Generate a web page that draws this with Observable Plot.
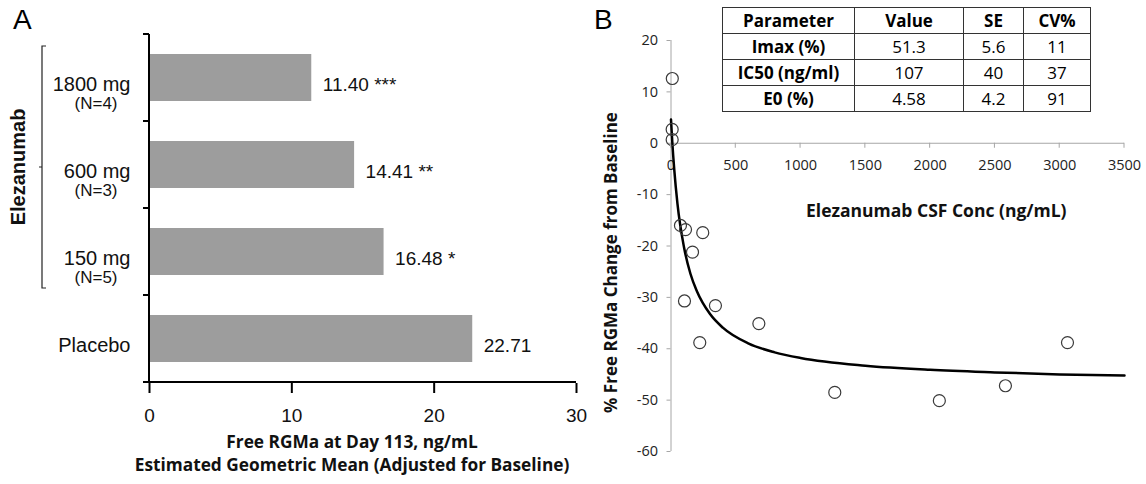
<!DOCTYPE html>
<html><head><meta charset="utf-8">
<script src="https://cdn.jsdelivr.net/npm/d3@7"></script>
<script src="https://cdn.jsdelivr.net/npm/@observablehq/plot@0.6"></script>
<style>
body{margin:0;background:#fff;}
#wrap{position:relative;width:1146px;height:484px;overflow:hidden;background:#fff;}
#panelA,#panelB{position:absolute;top:0;}
#panelA{left:0px}
#panelB{left:580px}
.plabel{position:absolute;font-family:"Liberation Sans",Arial,sans-serif;font-size:28px;line-height:28px;color:#000}
#params{position:absolute;left:722px;top:7px;border-collapse:collapse;font-family:"Open Sans",sans-serif;font-size:17px;color:#000;table-layout:fixed}
#params td{border:1px solid #333;text-align:center;padding:0;height:25px;line-height:25px}
#params td.b{font-weight:bold}
</style>
</head><body>
<div id="wrap">
  <div id="panelA"></div>
  <div id="panelB"></div>
  <div class="plabel" style="left:13px;top:6px">A</div>
  <div class="plabel" style="left:594px;top:6px">B</div>
  <table id="params"></table>
</div>
<script>
// ---------- Panel A data ----------
const groups = ["1800 mg", "600 mg", "150 mg", "Placebo"];
const groupN = ["(N=4)", "(N=3)", "(N=5)", ""];
const freeRGMa = [11.40, 14.41, 16.48, 22.71];
const signif = ["***", "**", "*", ""];
const xTicksA = [0, 10, 20, 30];
const bracketLabel = "Elezanumab";
const xTitleA1 = "Free RGMa at Day 113, ng/mL";
const xTitleA2 = "Estimated Geometric Mean (Adjusted for Baseline)";

// ---------- Panel B data ----------
const csfConc   = [10, 9, 9, 73, 112, 245, 166, 104, 343, 222, 678, 1264, 2071, 2581, 3060];
const pctChange = [12.6, 2.7, 0.7, -16.0, -16.8, -17.4, -21.2, -30.7, -31.6, -38.8, -35.1, -48.5, -50.1, -47.2, -38.8];
const fitConc = [0, 10, 25, 50, 100, 150, 200, 300, 400, 600, 800, 1000, 1500, 2000, 2500, 3000, 3500];
const fitPct  = [4.6, 0.2, -5.1, -11.8, -20.2, -25.4, -28.8, -33.2, -35.9, -39.0, -40.7, -41.8, -43.3, -44.1, -44.6, -45.0, -45.2];
const xTicksB = [0, 500, 1000, 1500, 2000, 2500, 3000, 3500];
const yTicksB = [-60, -50, -40, -30, -20, -10, 0, 10, 20];
const xTitleB = "Elezanumab CSF Conc (ng/mL)";
const yTitleB = "% Free RGMa Change from Baseline";

// ---------- Table data ----------
const tableHeader = ["Parameter", "Value", "SE", "CV%"];
const paramNames = ["Imax (%)", "IC50 (ng/ml)", "E0 (%)"];
const paramValues = ["51.3", "107", "4.58"];
const paramSE = ["5.6", "40", "4.2"];
const paramCV = ["11", "37", "91"];

// ================= Panel A =================
const barData = groups.map((g, i) => ({
  group: g, n: groupN[i], value: freeRGMa[i],
  label: freeRGMa[i].toFixed(2) + (signif[i] ? " " + signif[i] : "")
}));
const helv = "'Liberation Sans', Arial, sans-serif";
const calib = "'Open Sans', sans-serif";

const chartA = Plot.plot({
  width: 590, height: 484,
  marginLeft: 149, marginRight: 14, marginTop: 32, marginBottom: 101,
  style: {fontFamily: helv, background: "transparent", overflow: "visible", color: "#000"},
  x: {domain: [0, 30], axis: null},
  y: {domain: groups, padding: 0, axis: null},
  marks: [
    Plot.barX(barData, {x: "value", y: "group", fill: "#9d9d9d", insetTop: 20, insetBottom: 20}),
    Plot.text(barData, {x: "value", y: "group", text: "label", textAnchor: "start", dx: 11, dy: 7, fontSize: 19, fill: "#111"}),
    Plot.text(barData, {y: "group", frameAnchor: "left", text: "group", textAnchor: "end", dx: -19, dy: 7, fontSize: 20, fill: "#111"}),
    Plot.text(barData.filter(d => d.n), {y: "group", frameAnchor: "left", text: "n", textAnchor: "end", dx: -32, dy: 26, fontSize: 17, fill: "#111"}),
    Plot.axisX({ticks: xTicksA, tickSize: 10, strokeWidth: 2, tickPadding: 15, fontSize: 19, label: null, fill: "#111", stroke: "#000"}),
    Plot.text([xTitleA1], {frameAnchor: "bottom", dx: -11, dy: 64, fontSize: 17.3, fontWeight: "bold", fontFamily: calib, fill: "#111"}),
    Plot.text([xTitleA2], {frameAnchor: "bottom", dx: -11, dy: 87, fontSize: 17.3, fontWeight: "bold", fontFamily: calib, fill: "#111"})
  ]
});
{
  const xs = chartA.scale("x"), ys = chartA.scale("y");
  const svg = d3.select(chartA);
  const x0 = xs.apply(0), x1 = xs.apply(30);
  const bounds = groups.map(g => ys.apply(g));
  bounds.push(ys.apply(groups[groups.length - 1]) + ys.bandwidth);
  const yb = bounds[bounds.length - 1];
  const g = svg.append("g").attr("stroke", "#000").attr("stroke-width", 2).attr("fill", "none");
  g.append("line").attr("x1", x0).attr("x2", x0).attr("y1", bounds[0]).attr("y2", yb);
  g.append("line").attr("x1", x0).attr("x2", x1).attr("y1", yb).attr("y2", yb);
  bounds.forEach(b => g.append("line").attr("x1", x0 - 6).attr("x2", x0).attr("y1", b).attr("y2", b));
  // bracket over the Elezanumab doses
  const bTop = bounds[0] + 12, bBot = bounds[3] - 7, bx = 42, bMid = (bTop + bBot) / 2;
  const br = svg.append("g").attr("stroke", "#222").attr("stroke-width", 1.2).attr("fill", "none");
  br.append("path").attr("d", `M${bx + 4},${bTop}H${bx}V${bBot}H${bx + 4}M${bx},${bMid}H${bx - 3}`);
  svg.append("text").attr("transform", `translate(18,${bMid}) rotate(-90)`)
    .attr("text-anchor", "middle").attr("dy", "0.35em")
    .attr("font-family", helv).attr("font-weight", "bold").attr("font-size", 20).attr("fill", "#111")
    .text(bracketLabel);
}
document.getElementById("panelA").appendChild(chartA);

// ================= Panel B =================
const points = csfConc.map((c, i) => ({conc: c, pct: pctChange[i]}));
const fit = fitConc.map((c, i) => ({conc: c, pct: fitPct[i]}));
const chartB = Plot.plot({
  width: 566, height: 484,
  marginLeft: 90.5, marginRight: 22, marginTop: 40, marginBottom: 33,
  style: {fontFamily: calib, background: "transparent", overflow: "visible", color: "#000"},
  x: {domain: [0, 3500], axis: null},
  y: {domain: [-60, 20], axis: null},
  marks: [
    Plot.ruleX([0], {stroke: "#a6a6a6"}),
    Plot.ruleY([0], {stroke: "#a6a6a6"}),
    Plot.axisY({ticks: yTicksB, tickSize: 4, tickPadding: 9, stroke: "#a6a6a6", fill: "#222", fontSize: 14.5, label: null, tickFormat: d => String(d)}),
    Plot.text(xTicksB, {x: d => d, y: 0, dy: 22, text: d => String(d), fontSize: 14.5, fill: "#222"}),
    Plot.line(fit, {x: "conc", y: "pct", curve: "monotone-x", stroke: "#000", strokeWidth: 2.5}),
    Plot.dot(points, {x: "conc", y: "pct", r: 6, stroke: "#3a3a3a", strokeWidth: 1.2, fill: "none"}),
    Plot.text([xTitleB], {frameAnchor: "top", dx: 38.5, dy: 164, fontSize: 17.5, fontWeight: "bold", fill: "#111"})
  ]
});
{
  const xs = chartB.scale("x"), ys = chartB.scale("y");
  const svg = d3.select(chartB);
  const y0 = ys.apply(0);
  const g = svg.append("g").attr("stroke", "#a6a6a6").attr("stroke-width", 1);
  xTicksB.forEach(t => g.append("line").attr("x1", xs.apply(t)).attr("x2", xs.apply(t)).attr("y1", y0).attr("y2", y0 + 5));
  const yMid = (ys.apply(20) + ys.apply(-60)) / 2;
  svg.append("text").attr("transform", `translate(31,${yMid + 17}) rotate(-90)`)
    .attr("text-anchor", "middle").attr("dy", "0.35em")
    .attr("font-family", calib).attr("font-weight", "bold").attr("font-size", 17).attr("fill", "#111")
    .text(yTitleB);
}
document.getElementById("panelB").appendChild(chartB);

// ================= Table =================
{
  const tbl = d3.select("#params");
  const colW = [132, 109, 60, 67];
  const cg = tbl.append("colgroup");
  colW.forEach(w => cg.append("col").style("width", w + "px"));
  const hr = tbl.append("tr");
  tableHeader.forEach(h => hr.append("td").attr("class", "b").text(h));
  paramNames.forEach((p, i) => {
    const tr = tbl.append("tr");
    tr.append("td").attr("class", "b").text(p);
    tr.append("td").text(paramValues[i]);
    tr.append("td").text(paramSE[i]);
    tr.append("td").text(paramCV[i]);
  });
}
</script>
</body></html>
